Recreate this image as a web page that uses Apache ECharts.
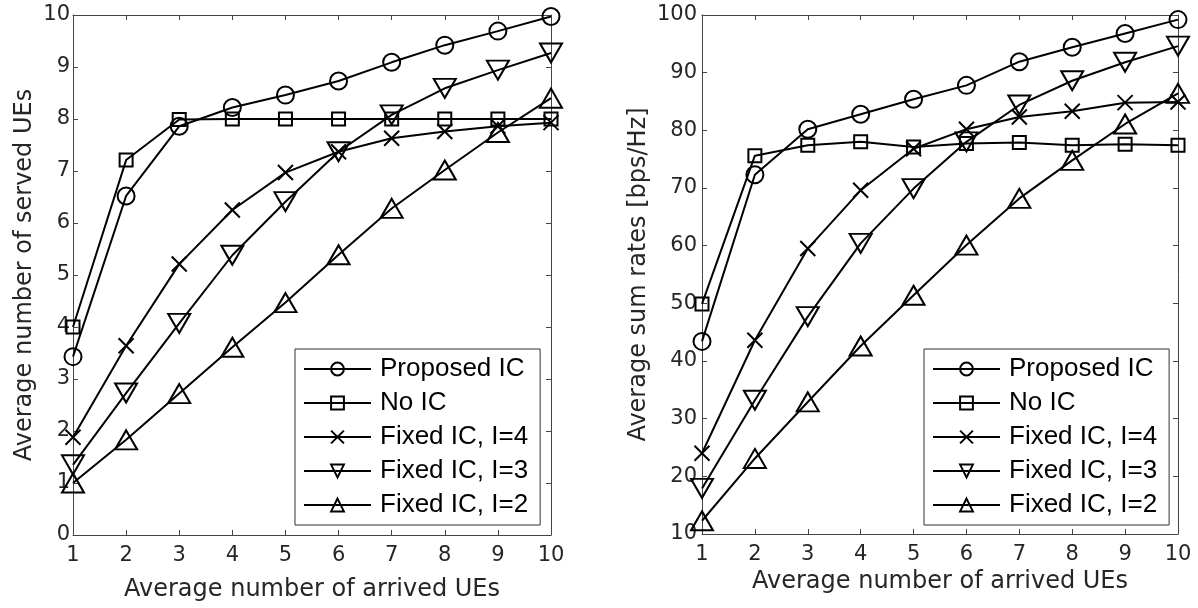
<!DOCTYPE html>
<html>
<head>
<meta charset="utf-8">
<script src="https://cdn.jsdelivr.net/npm/echarts@6/dist/echarts.min.js"></script>
<style>
  html, body { margin: 0; padding: 0; background: #fff; }
  #chart { width: 1198px; height: 608px; }
</style>
</head>
<body>
<div id="chart"></div>
<script>
// x axis: average number of arrived UEs
var arrivedUEs = [1, 2, 3, 4, 5, 6, 7, 8, 9, 10];

var seriesNames = ['Proposed IC', 'No IC', 'Fixed IC, I=4', 'Fixed IC, I=3', 'Fixed IC, I=2'];

// left plot: average number of served UEs
var servedProposed = [3.43, 6.52, 7.86, 8.22, 8.46, 8.73, 9.09, 9.42, 9.69, 9.97];
var servedNoIC     = [4.0, 7.21, 7.99, 8.0, 8.0, 8.0, 8.0, 8.0, 8.0, 8.0];
var servedFixed4   = [1.88, 3.64, 5.21, 6.25, 6.97, 7.37, 7.63, 7.76, 7.86, 7.93];
var servedFixed3   = [1.35, 2.73, 4.07, 5.38, 6.41, 7.37, 8.08, 8.59, 8.94, 9.27];
var servedFixed2   = [1.0, 1.83, 2.72, 3.61, 4.47, 5.39, 6.28, 7.02, 7.74, 8.4];

// right plot: average sum rates [bps/Hz]
var rateProposed = [43.4, 72.3, 80.2, 82.8, 85.4, 87.8, 91.9, 94.4, 96.8, 99.2];
var rateNoIC     = [49.9, 75.6, 77.4, 78.0, 77.1, 77.7, 77.9, 77.4, 77.6, 77.4];
var rateFixed4   = [24.0, 43.6, 59.5, 69.6, 76.8, 80.2, 82.3, 83.3, 84.8, 84.9];
var rateFixed3   = [17.9, 33.2, 47.7, 60.4, 69.9, 78.0, 84.4, 88.6, 91.8, 94.6];
var rateFixed2   = [12.3, 23.1, 32.9, 42.6, 51.4, 60.1, 68.2, 74.8, 81.1, 86.4];

var chart = echarts.init(document.getElementById('chart'));

var axisColor = '#444';
var textColor = '#262626';

var markers = [
  { symbol: 'circle', size: 17, rotate: 0 },
  { symbol: 'rect', size: 13, rotate: 0 },
  { symbol: 'path://M0,0L10,10M0,10L10,0', size: 15, rotate: 0 },
  { symbol: 'triangle', size: [22, 19], rotate: 180 },
  { symbol: 'triangle', size: [22, 19], rotate: 0 }
];

function pairs(ys) {
  return arrivedUEs.map(function (x, i) { return [x, ys[i]]; });
}

function makeSeries(ys, k, axisIdx) {
  return {
    name: seriesNames[k],
    type: 'line',
    xAxisIndex: axisIdx,
    yAxisIndex: axisIdx,
    data: pairs(ys),
    symbol: markers[k].symbol,
    symbolSize: markers[k].size,
    symbolRotate: markers[k].rotate,
    clip: false,
    lineStyle: { color: '#000', width: 2 },
    itemStyle: { color: 'none', borderColor: '#000', borderWidth: 2 },
    emphasis: { disabled: true }
  };
}

function xAxes(gridIdx, nameGap) {
  var common = {
    type: 'value', gridIndex: gridIdx, min: 1, max: 10, interval: 1,
    axisLine: { onZero: false, lineStyle: { color: axisColor, width: 1 } },
    axisTick: { inside: true, length: 5, lineStyle: { color: axisColor } },
    splitLine: { show: false }
  };
  return [
    Object.assign({}, common, {
      position: 'bottom',
      name: 'Average number of arrived UEs',
      nameLocation: 'middle',
      nameGap: nameGap,
      nameTextStyle: { fontFamily: 'DejaVu Sans', fontSize: 24, color: textColor },
      axisLabel: { fontFamily: 'DejaVu Sans', fontSize: 21, color: textColor, margin: 10 }
    }),
    Object.assign({}, common, { position: 'top', axisLabel: { show: false } })
  ];
}

function yAxes(gridIdx, min, max, step, name, nameGap, labelMargin) {
  var common = {
    type: 'value', gridIndex: gridIdx, min: min, max: max, interval: step,
    axisLine: { show: true, onZero: false, lineStyle: { color: axisColor, width: 1 } },
    axisTick: { show: true, inside: true, length: 5, lineStyle: { color: axisColor } },
    splitLine: { show: false }
  };
  return [
    Object.assign({}, common, {
      position: 'left',
      name: name,
      nameLocation: 'middle',
      nameGap: nameGap,
      nameTextStyle: { fontFamily: 'DejaVu Sans', fontSize: 24, color: textColor },
      axisLabel: { fontFamily: 'DejaVu Sans', fontSize: 21, color: textColor, margin: labelMargin }
    }),
    Object.assign({}, common, { position: 'right', axisLabel: { show: false } })
  ];
}

function legendAt(left) {
  return {
    data: seriesNames,
    left: left,
    top: 349,
    orient: 'vertical',
    backgroundColor: '#fff',
    borderColor: '#333',
    borderWidth: 1,
    padding: [7, 12, 7, 8],
    itemWidth: 67,
    itemHeight: 16,
    itemGap: 8,
    selectedMode: false,
    textStyle: { fontFamily: 'Liberation Sans', fontSize: 26, lineHeight: 26, color: '#000', padding: [0, 0, 0, 4] },
    z: 10
  };
}

var xs = xAxes(0, 43).concat(xAxes(1, 33));
var ys = yAxes(0, 0, 10, 1, 'Average number of served UEs', 36, 3)
  .concat(yAxes(1, 10, 100, 10, 'Average sum rates [bps/Hz]', 51, 5));

var leftData = [servedProposed, servedNoIC, servedFixed4, servedFixed3, servedFixed2];
var rightData = [rateProposed, rateNoIC, rateFixed4, rateFixed3, rateFixed2];

// axes 0/2 carry the data; 1/3 only draw the box ticks on top and right
var series = [];
leftData.forEach(function (d, k) { series.push(makeSeries(d, k, 0)); });
rightData.forEach(function (d, k) { series.push(makeSeries(d, k, 2)); });

var option = {
  animation: false,
  backgroundColor: '#fff',
  grid: [
    { left: 73, top: 15, width: 478, height: 520 },
    { left: 702, top: 15, width: 476, height: 519 }
  ],
  xAxis: xs,
  yAxis: ys,
  legend: [legendAt(295), legendAt(924)],
  series: series
};

chart.setOption(option);
</script>
</body>
</html>
